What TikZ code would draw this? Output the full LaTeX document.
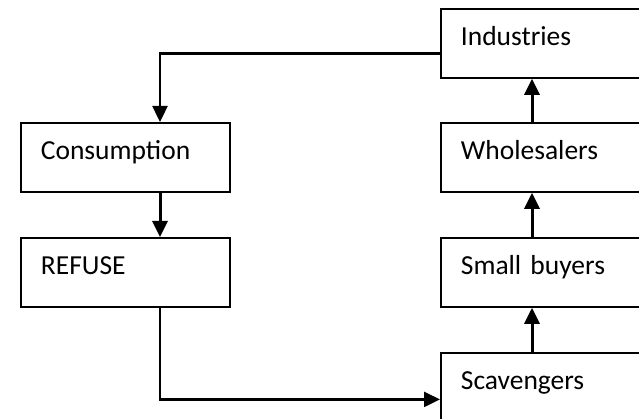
\documentclass[tikz,border=0pt]{standalone}
\usepackage{fontspec}
\setmainfont{Carlito}
\usetikzlibrary{arrows.meta}

\begin{document}
\begin{tikzpicture}[x=1pt, y=-1pt,
	box/.style={draw, line width=1.8pt, anchor=north west, align=left, inner xsep=20pt, inner ysep=0pt,
		text height=37pt, text depth=32pt, font=\fontsize{27.5}{30}\selectfont},
	leftbox/.style={box, text width=169pt},
	rightbox/.style={box, text width=200pt},
	flow/.style={line width=3pt, -{Triangle[width=15pt,length=16pt]}},
	link/.style={line width=2.4pt, -{Triangle[width=15pt,length=16pt]}}]
	%%%%% START %%%%%
	
	\clip (0, 0) rectangle (639, 419);
	
	\coordinate (lx) at (160, 0);
	\coordinate (rx) at (532, 0);
	
	\node[rightbox] (ind) at (440, 8) {Industries};
	\node[rightbox] (whole) at (440, 122) {Wholesalers};
	\node[rightbox] (small) at (440, 237) {Small buyers};
	\node[rightbox] (scav) at (440, 352) {Scavengers};
	
	\node[leftbox] (cons) at (20, 122) {Consumption};
	\node[leftbox] (refuse) at (20, 237) {REFUSE};
	
	\draw[flow] (scav.north -| rx) -- (small.south -| rx);
	\draw[flow] (small.north -| rx) -- (whole.south -| rx);
	\draw[flow] (whole.north -| rx) -- (ind.south -| rx);
	
	\draw[link] ([yshift=-10pt]ind.west) -| (cons.north -| lx);
	\draw[flow] (cons.south -| lx) -- (refuse.north -| lx);
	\draw[link] (refuse.south -| lx) |- ([yshift=-12pt]scav.west);
	
	%%%%% END %%%%%
\end{tikzpicture}
\end{document}
